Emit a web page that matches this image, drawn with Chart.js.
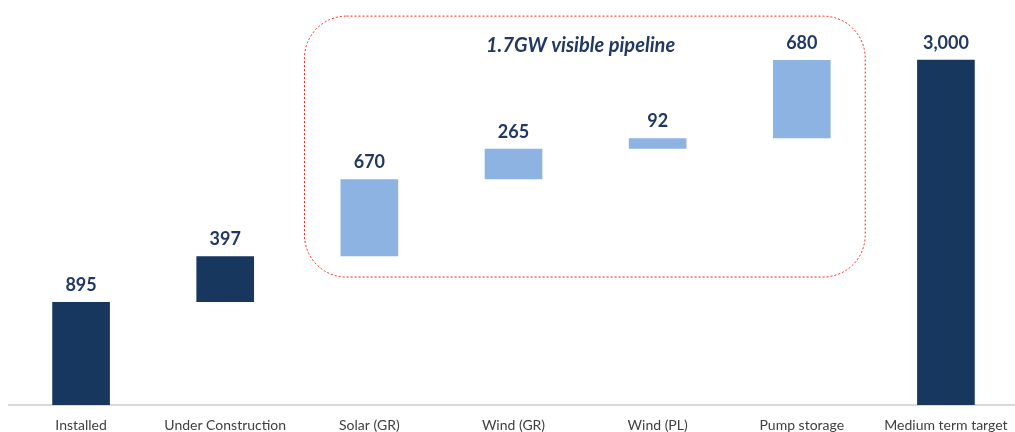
<!DOCTYPE html>
<html>
<head>
<meta charset="utf-8">
<script src="https://cdn.jsdelivr.net/npm/chart.js@4/dist/chart.umd.min.js"></script>
<style>
  html, body { margin: 0; padding: 0; background: #fff; overflow: hidden; }
  #wrap { width: 1020px; height: 432px; }
</style>
</head>
<body>
<div id="wrap"><canvas id="waterfall" width="1020" height="432"></canvas></div>
<script>
var categories = ["Installed", "Under Construction", "Solar (GR)", "Wind (GR)", "Wind (PL)", "Pump storage", "Medium term target"];
var values = [895, 397, 670, 265, 92, 680, 3000];
var valueLabels = ["895", "397", "670", "265", "92", "680", "3,000"];
var isTotal = [true, false, false, false, false, false, true];
var pipelineLabel = "1.7GW visible pipeline";

var darkBlue = "#17375e";
var lightBlue = "#8db3e2";
var textBlue = "#1f3864";

function buildRanges() {

  var ranges = [];
  var running = 0;

  for (var i = 0; i < values.length; i++) {

    if (isTotal[i] && i > 0) {
      ranges.push([0, values[i]]);
    } else {
      ranges.push([running, running + values[i]]);
      running += values[i];
    }
  }
  return ranges;
}

function barColours() {

  var colours = [];
  for (var i = 0; i < categories.length; i++) {
    if (i == 0 || i == 1 || i == categories.length - 1) {
      colours.push(darkBlue);
    } else {
      colours.push(lightBlue);
    }
  }
  return colours;
}

var labelPlugin = {
  id: "valueLabels",
  afterDatasetsDraw: function(chart) {

    var ctx = chart.ctx;
    var meta = chart.getDatasetMeta(0);
    ctx.save();
    ctx.fillStyle = textBlue;
    ctx.font = "bold 18px Lato";
    ctx.textAlign = "center";
    ctx.textBaseline = "bottom";
    for (var i = 0; i < meta.data.length; i++) {
      var bar = meta.data[i];
      ctx.fillText(valueLabels[i], bar.x, bar.y - 8);
    }
    ctx.restore();
  }
};

var pipelinePlugin = {
  id: "pipelineBox",
  afterDatasetsDraw: function(chart) {

    var ctx = chart.ctx;
    var x = chart.scales.x;
    var y = chart.scales.y;
    var step = x.getPixelForValue(1) - x.getPixelForValue(0);
    var left = x.getPixelForValue(2) - step * 0.45;
    var right = x.getPixelForValue(5) + step * 0.44;
    var top = y.getPixelForValue(3380);
    var bottom = y.getPixelForValue(1112);

    ctx.save();
    ctx.strokeStyle = "#ff2020";
    ctx.lineWidth = 1;
    ctx.setLineDash([2, 2]);
    ctx.beginPath();
    ctx.roundRect(left, top, right - left, bottom - top, 42);
    ctx.stroke();
    ctx.setLineDash([]);

    ctx.fillStyle = textBlue;
    ctx.font = "italic bold 20px Lato";
    ctx.textAlign = "center";
    ctx.textBaseline = "middle";
    ctx.fillText(pipelineLabel, (x.getPixelForValue(3) + x.getPixelForValue(4)) / 2 - 5, y.getPixelForValue(3120));
    ctx.restore();
  }
};

function drawChart() {

  var ctx = document.getElementById("waterfall").getContext("2d");
  var chart = new Chart(ctx, {

    type: "bar",

    data: {
      labels: categories,
      datasets: [{
        data: buildRanges(),
        backgroundColor: barColours(),
        borderWidth: 0,
        barPercentage: 0.4,
        categoryPercentage: 1
      }]
    },

    options: {
      responsive: false,
      animation: false,
      layout: { padding: { left: 9, right: 2, top: 0, bottom: 0 } },
      plugins: {
        legend: { display: false },
        tooltip: { enabled: false }
      },
      scales: {
        x: {
          grid: { display: false, drawTicks: false },
          border: { display: true, color: "#d9d9d9", width: 2 },
          afterFit: function(axis) {
            axis.height = 27;
          },
          ticks: {
            color: "#404040",
            padding: 12,
            maxRotation: 0,
            autoSkip: false,
            font: { family: "Lato", size: 14 }
          }
        },
        y: {
          display: false,
          min: 0,
          max: 3520
        }
      }
    },

    plugins: [labelPlugin, pipelinePlugin]
  });
}

drawChart();
</script>
</body>
</html>
